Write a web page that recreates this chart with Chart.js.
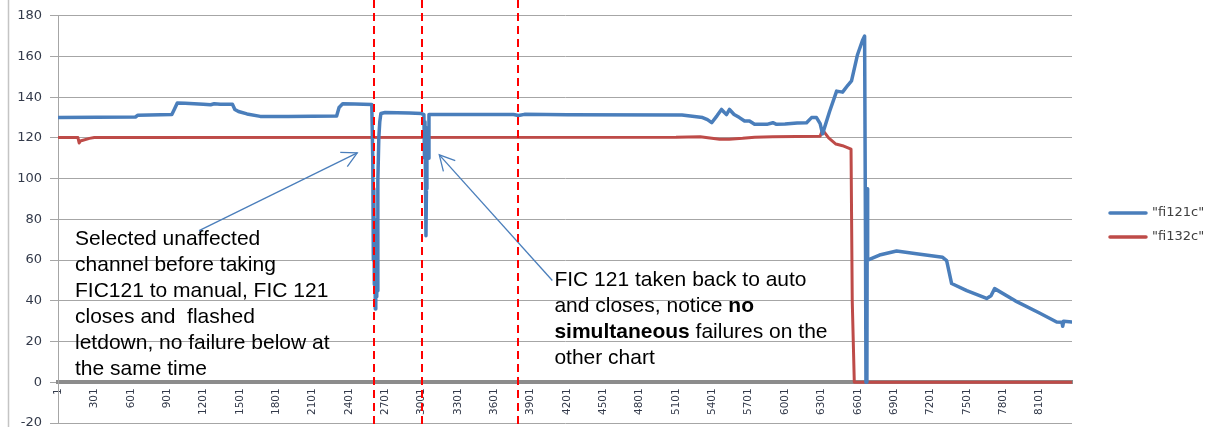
<!DOCTYPE html>
<html>
<head>
<meta charset="utf-8">
<script src="https://cdn.jsdelivr.net/npm/chart.js@4.4.1/dist/chart.umd.min.js"></script>
<style>
html,body{margin:0;padding:0;background:#fff;overflow:hidden;}
#wrap{width:1219px;height:440px;}
</style>
</head>
<body>
<div id="wrap"><canvas id="c" width="1219" height="440"></canvas></div>
<script>
// ---- data ----
const seriesNames = ['"fi121c"', '"fi132c"'];
const tickValues = [1,301,601,901,1201,1501,1801,2101,2401,2701,3001,3301,3601,3901,4201,4501,4801,5101,5401,5701,6001,6301,6601,6901,7201,7501,7801,8101];
const yMin = -20, yMax = 180, yStep = 20;
const xCount = 8368;

const blueX = [1,640,660,940,960,985,1050,1200,1260,1290,1340,1440,1460,1490,1560,1670,1900,2300,2320,2350,2450,2590,2598,2603,2607,2611,2615,2619,2623,2627,2631,2635,2640,2648,2656,2665,2700,2900,3000,3020,3025,3029,3033,3037,3041,3045,3050,3055,3062,3200,3760,3800,3850,4200,5150,5320,5360,5395,5440,5476,5500,5517,5542,5580,5624,5666,5707,5749,5850,5900,5930,6000,6100,6178,6219,6260,6290,6310,6368,6426,6475,6520,6549,6599,6640,6657,6665,6668,6676,6679,6682,6780,6921,7100,7301,7334,7375,7500,7664,7700,7730,7900,8100,8242,8285,8292,8300,8368];
const blueY = [130,130.3,131.2,131.5,134,137.2,137,136.6,136.3,136.8,136.6,136.5,134,133,131.8,130.6,130.5,130.8,135,136.8,136.7,136.4,110,60,95,48,80,36,62,42,70,45,99,120,128,132,132.5,132.3,132,131.5,110,128,100,72,95,112,125,110,131.5,131.5,131.5,131,131.6,131.4,131.3,130,129,127.5,131,134,132.5,131.5,134,131.5,130,128.3,128.3,126.7,126.7,127.5,126.7,126.8,127.3,127.5,130,130,127,122,133,143,142.5,146,148,161,168,170,60,0,0,95,60,62.5,64.5,63,61.4,59.8,48.5,45,41.2,42.5,46,40,34,29.6,29.5,27.5,30,29.6];

const redX = [1,165,175,185,260,300,5100,5300,5460,5540,5650,5750,5900,6290,6310,6360,6420,6475,6545,6555,6572,8368];
const redY = [120.2,120.2,117.5,118.5,119.8,120.2,120.3,120.6,119.4,119.4,119.8,120.4,120.6,120.8,124,120,117,116.2,114.5,40,0,0];

// vertical dashed markers (category index)
const markerX = [2610, 3006, 3800];

// annotations (anchored in data coordinates)
const note1Lines = [
  [["Selected unaffected", false]],
  [["channel before taking", false]],
  [["FIC121 to manual, FIC 121", false]],
  [["closes and  flashed", false]],
  [["letdown, no failure below at", false]],
  [["the same time", false]]
];
const note1At = [141, 70.5];
const note2Lines = [
  [["FIC 121 taken back to auto", false]],
  [["and closes, notice ", false], ["no", true]],
  [["simultaneous", true], [" failures on the", false]],
  [["other chart", false]]
];
const note2At = [4097, 50.2];
const arrow1 = {from: [1165, 74.5], to: [2470, 112.7]};
const arrow2 = {from: [4080, 50], to: [3147, 111.7]};

const BLUE = '#4a7ebb', RED = '#be4b48';

function pts(xs, ys) { return xs.map((x, i) => ({x: x, y: ys[i]})); }

const overlay = {
  id: 'overlay',
  beforeDraw(chart) {
    const ctx = chart.ctx;
    ctx.save();
    ctx.fillStyle = '#fff';
    ctx.fillRect(0, 0, chart.width, chart.height);
    ctx.strokeStyle = '#c4c4c4';
    ctx.lineWidth = 1.5;
    ctx.beginPath(); ctx.moveTo(8.5, 0); ctx.lineTo(8.5, chart.height); ctx.stroke();
    ctx.restore();
  },
  afterDatasetsDraw(chart) {
    const {ctx, scales: {x, y}, chartArea} = chart;
    ctx.save();
    ctx.fillStyle = '#000';
    ctx.textBaseline = 'middle';
    ctx.textAlign = 'left';
    const drawRich = (lines, at) => {
      const x0 = x.getPixelForValue(at[0]);
      const y0 = y.getPixelForValue(at[1]);
      lines.forEach((segs, i) => {
        let cx = x0;
        const cy = y0 + i * 26;
        segs.forEach(([t, b]) => {
          ctx.font = (b ? 'bold ' : '') + '21px "Liberation Sans", Arial, sans-serif';
          ctx.fillText(t, cx, cy);
          cx += ctx.measureText(t).width;
        });
      });
    };
    drawRich(note1Lines, note1At);
    drawRich(note2Lines, note2At);
    const drawArrow = (a) => {
      const fx = x.getPixelForValue(a.from[0]), fy = y.getPixelForValue(a.from[1]);
      const tx = x.getPixelForValue(a.to[0]), ty = y.getPixelForValue(a.to[1]);
      ctx.strokeStyle = BLUE;
      ctx.lineWidth = 1.3;
      ctx.beginPath(); ctx.moveTo(fx, fy); ctx.lineTo(tx, ty); ctx.stroke();
      const ang = Math.atan2(fy - ty, fx - tx);
      const L = 17, h = 28 * Math.PI / 180;
      ctx.beginPath();
      ctx.moveTo(tx + L * Math.cos(ang + h), ty + L * Math.sin(ang + h));
      ctx.lineTo(tx, ty);
      ctx.lineTo(tx + L * Math.cos(ang - h), ty + L * Math.sin(ang - h));
      ctx.stroke();
    };
    drawArrow(arrow1);
    drawArrow(arrow2);
    ctx.strokeStyle = '#ff0000';
    ctx.lineWidth = 2;
    ctx.setLineDash([8, 5]);
    markerX.forEach(v => {
      const px = Math.round(x.getPixelForValue(v));
      ctx.beginPath(); ctx.moveTo(px, 0); ctx.lineTo(px, chart.height); ctx.stroke();
    });
    ctx.setLineDash([]);
    ctx.font = '13px "DejaVu Sans", sans-serif';
    ctx.textBaseline = 'middle';
    chart.data.datasets.forEach((ds, i) => {
      const ly = 213 + i * 24;
      const lx = chartArea.right + 38;
      ctx.strokeStyle = ds.borderColor;
      ctx.lineWidth = 3.5;
      ctx.lineCap = 'round';
      ctx.beginPath(); ctx.moveTo(lx, ly); ctx.lineTo(lx + 36, ly); ctx.stroke();
      ctx.fillStyle = '#404040';
      ctx.fillText(ds.label, lx + 42, ly);
    });
    ctx.restore();
  }
};

new Chart(document.getElementById('c'), {
  type: 'line',
  data: {
    datasets: [
      {label: seriesNames[0], data: pts(blueX, blueY), borderColor: BLUE, borderWidth: 3.5, pointRadius: 0, tension: 0, borderJoinStyle: 'round', borderCapStyle: 'round'},
      {label: seriesNames[1], data: pts(redX, redY), borderColor: RED, borderWidth: 3, pointRadius: 0, tension: 0, borderJoinStyle: 'round', borderCapStyle: 'round'}
    ]
  },
  options: {
    responsive: false,
    animation: false,
    devicePixelRatio: 1,
    layout: {padding: {left: 0, right: 147, top: 14.5, bottom: 17}},
    plugins: {legend: {display: false}, tooltip: {enabled: false}},
    scales: {
      x: {
        type: 'linear',
        min: 0.5,
        max: xCount + 0.5,
        position: {y: 0},
        grid: {display: false, drawTicks: false},
        border: {display: true, color: '#8c8c8c', width: 4},
        afterBuildTicks: s => { s.ticks = tickValues.map(v => ({value: v})); },
        ticks: {
          autoSkip: false, minRotation: 90, maxRotation: 90, padding: 6,
          color: '#333a4a',
          font: {family: '"DejaVu Sans", sans-serif', size: 10.5},
          callback: v => String(v)
        }
      },
      y: {
        type: 'linear',
        min: yMin, max: yMax,
        afterFit: s => { s.width = 58; },
        grid: {color: '#a6a6a6', lineWidth: 1, tickLength: 8},
        border: {display: true, color: '#a6a6a6', width: 1},
        ticks: {
          stepSize: yStep, padding: 8, color: '#333a4a',
          font: {family: '"DejaVu Sans", sans-serif', size: 13},
          callback: v => String(v)
        }
      }
    }
  },
  plugins: [overlay]
});
</script>
</body>
</html>
